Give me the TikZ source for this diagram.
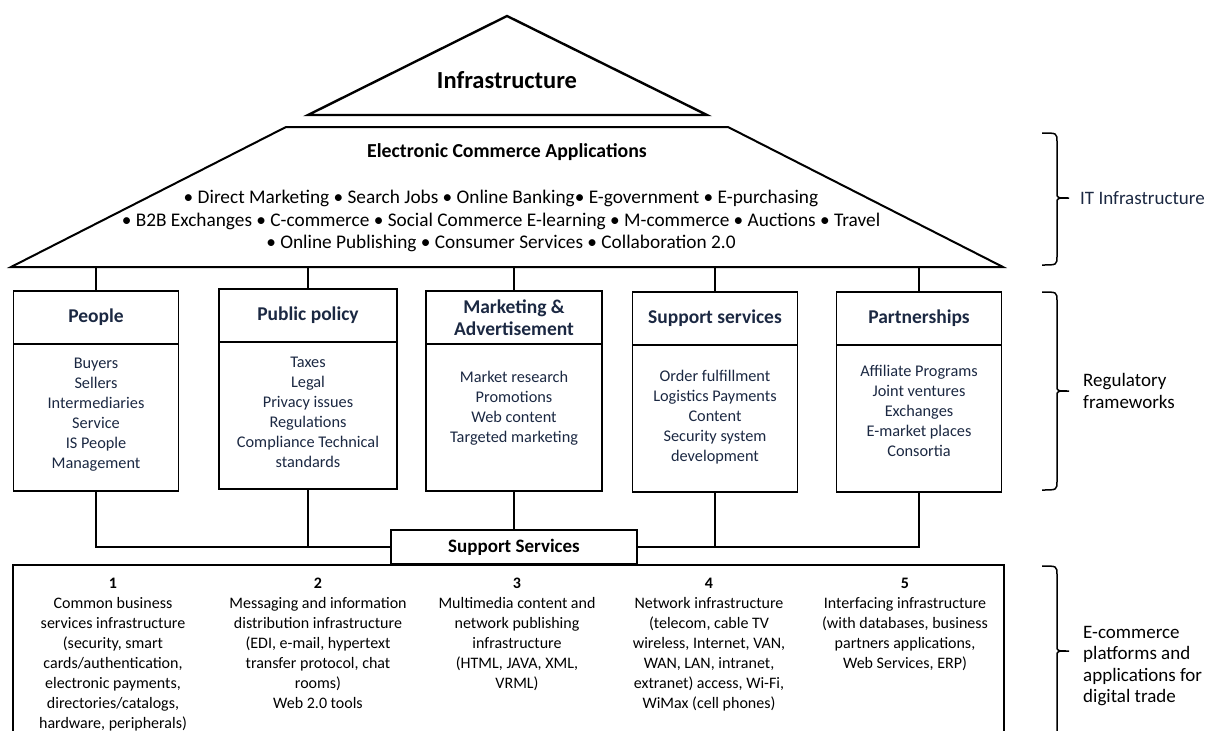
\documentclass[tikz,border=0pt]{standalone}
\usepackage{fontspec}
\setmainfont{Carlito}
\usepackage{xcolor}
\usepackage{tikz}
\usetikzlibrary{positioning,calc}
\definecolor{inknavy}{RGB}{27,40,66}

\tikzset{
  head/.style={draw, line width=1.6pt, outer sep=0pt, minimum width=#1, minimum height=53pt, align=center, text=inknavy, font=\fontsize{19.5}{22}\selectfont\bfseries},
  body/.style={draw, line width=1.6pt, outer sep=0pt, minimum width=#1, minimum height=147pt},
  items/.style={align=center, inner sep=0pt, text=inknavy, font=\fontsize{16.3}{20}\selectfont},
  column/.style={anchor=north, align=center, inner sep=0pt, font=\fontsize{16}{20}\selectfont},
  sidelabel/.style={anchor=west, align=left, inner sep=0pt, font=\fontsize{19}{21.5}\selectfont},
  link/.style={line width=1.3pt},
}

\begin{document}
\begin{tikzpicture}[x=1pt, y=-1pt]
  \clip (0,0) rectangle (1208,731);

  % roof
  \draw[line width=2.4pt] (507,16) coordinate (apex) -- (707,115) -- (308,115) -- cycle;
  \node[font=\fontsize{24.5}{28}\selectfont\bfseries] (infra) at (507,80) {Infrastructure};

  % applications
  \coordinate (tl) at (286,127);
  \coordinate (tr) at (728,127);
  \coordinate (br) at (1003,267);
  \coordinate (bl) at (11,267);
  \draw[line width=2pt] (tl) -- (tr) -- (br) -- (bl) -- cycle;
  \node[font=\fontsize{19.8}{22}\selectfont\bfseries] (apps) at (507,152) {Electronic Commerce Applications};
  \node[align=center, inner sep=0pt, font=\fontsize{19.3}{22.5}\selectfont] (applist) at (501,221)
    {• Direct Marketing • Search Jobs • Online Banking• E-government • E-purchasing\\
     • B2B Exchanges • C-commerce • Social Commerce E-learning • M-commerce • Auctions • Travel\\
     • Online Publishing • Consumer Services • Collaboration 2.0};

  % pillars
  \node[head=165pt] (people) at (96,317.5) {People};
  \node[body=165pt, below=0pt of people] (peopleb) {};
  \node[items, below=14pt of people] (peoplei) {Buyers\\Sellers\\Intermediaries\\Service\\IS People\\Management};

  \node[head=178pt] (policy) at (308,315.5) {Public policy};
  \node[body=178pt, below=0pt of policy] (policyb) {};
  \node[items, below=15pt of policy] (policyi) {Taxes\\Legal\\Privacy issues\\Regulations\\Compliance Technical\\standards};

  \node[head=176pt] (market) at (514,317.5) {Marketing \&\\Advertisement};
  \node[body=176pt, below=0pt of market] (marketb) {};
  \node[items, below=27pt of market] (marketi) {Market research\\Promotions\\Web content\\Targeted marketing};

  \node[head=165pt] (service) at (715,318.5) {Support services};
  \node[body=165pt, below=0pt of service] (serviceb) {};
  \node[items, below=25pt of service] (servicei) {Order fulfillment\\Logistics Payments\\Content\\Security system\\development};

  \node[head=165pt] (partner) at (919,318.5) {Partnerships};
  \node[body=165pt, below=0pt of partner] (partnerb) {};
  \node[items, below=20pt of partner] (partneri) {Affiliate Programs\\Joint ventures\\Exchanges\\E-market places\\Consortia};

  % links to the roof
  \foreach \p in {people,policy,market,service,partner}
    \draw[link] (\p.north) -- (\p.north |- bl);

  % support services
  \node[draw, line width=1.6pt, outer sep=0pt, minimum width=246pt, minimum height=34pt, font=\fontsize{19}{22}\selectfont\bfseries] (supp) at (514,547) {Support Services};
  \draw[link] (peopleb.south) |- (supp.west);
  \draw[link] (policyb.south) -- (policyb.south |- supp.west);
  \draw[link] (marketb.south) -- (supp.north);
  \draw[link] (partnerb.south) |- (supp.east);
  \draw[link] (serviceb.south) -- (serviceb.south |- supp.east);

  % platforms
  \node[draw, line width=1.6pt, outer sep=0pt, anchor=north west, minimum width=991pt, minimum height=200pt] (platform) at (13,565) {};
  \node[column] (col1) at (113,577.5) {\textbf{1}\\Common business\\services infrastructure\\(security, smart\\cards/authentication,\\electronic payments,\\directories/catalogs,\\hardware, peripherals)};
  \node[column] (col2) at (318,577.5) {\textbf{2}\\Messaging and information\\distribution infrastructure\\(EDI, e-mail, hypertext\\transfer protocol, chat\\rooms)\\Web 2.0 tools};
  \node[column] (col3) at (517,577.5) {\textbf{3}\\Multimedia content and\\network publishing\\infrastructure\\(HTML, JAVA, XML,\\VRML)};
  \node[column] (col4) at (709,577.5) {\textbf{4}\\Network infrastructure\\(telecom, cable TV\\wireless, Internet, VAN,\\WAN, LAN, intranet,\\extranet) access, Wi-Fi,\\WiMax (cell phones)};
  \node[column] (col5) at (905,577.5) {\textbf{5}\\Interfacing infrastructure\\(with databases, business\\partners applications,\\Web Services, ERP)};

  % braces
  \foreach \t/\m/\b in {133/198/265, 292/391/490, 566/651/760}
    \draw[line width=1.5pt] (1042,\t) .. controls (1057,\t) .. (1057,\t+9) -- (1057,\m-5)
      .. controls (1057,\m) .. (1069,\m) .. controls (1057,\m) .. (1057,\m+5)
      -- (1057,\b-9) .. controls (1057,\b) .. (1042,\b);

  \node[sidelabel, text=inknavy] (itlabel) at (1080,198) {IT Infrastructure};
  \node[sidelabel] (reglabel) at (1083,391) {Regulatory\\frameworks};
  \node[sidelabel] (eclabel) at (1083,666) {E-commerce\\platforms and\\applications for\\digital trade};
\end{tikzpicture}
\end{document}
